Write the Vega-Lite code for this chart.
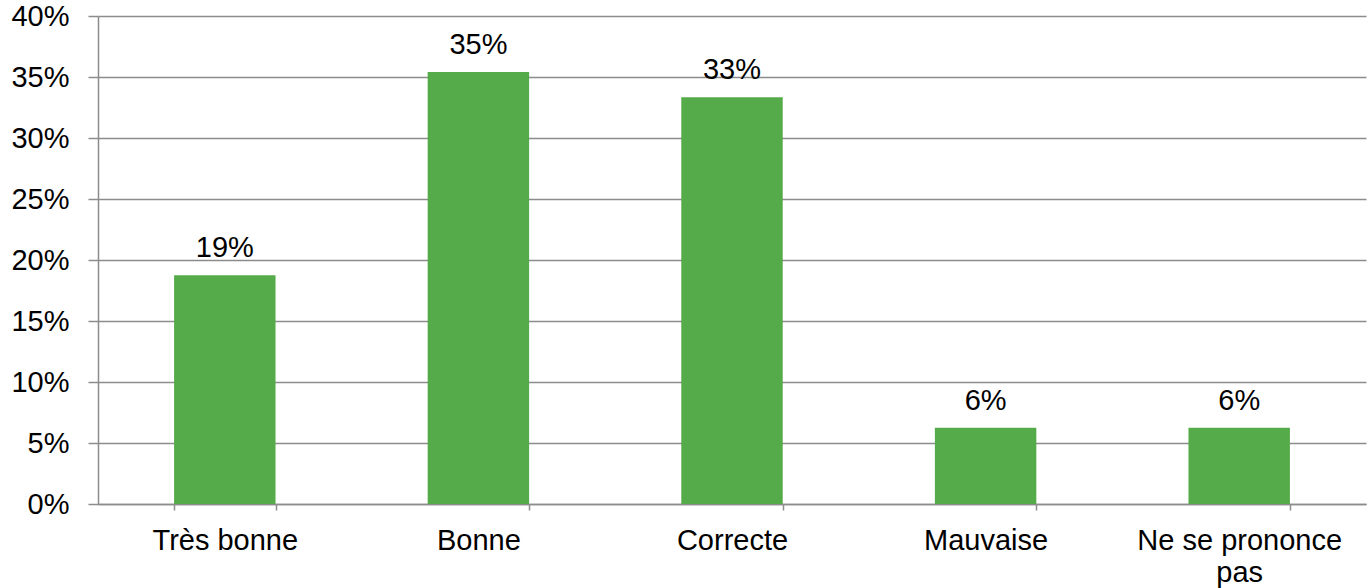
{
  "$schema": "https://vega.github.io/schema/vega-lite/v6.json",
  "autosize": "none",
  "width": 1268,
  "height": 488,
  "padding": {"left": 98, "top": 16, "right": 4, "bottom": 84},
  "background": "white",
  "config": {
    "view": {"stroke": null},
    "font": "Liberation Sans"
  },
  "data": {
    "values": [
      {"categorie": "Très bonne", "part": 0.1875},
      {"categorie": "Bonne", "part": 0.3542},
      {"categorie": "Correcte", "part": 0.3333},
      {"categorie": "Mauvaise", "part": 0.0625},
      {"categorie": "Ne se prononce pas", "part": 0.0625}
    ]
  },
  "encoding": {
    "x": {
      "field": "categorie",
      "type": "nominal",
      "sort": null,
      "scale": {"paddingInner": 0.6, "paddingOuter": 0.3},
      "axis": {
        "title": null,
        "labelAngle": 0,
        "labelFont": "Liberation Sans",
        "labelFontSize": 29,
        "labelColor": "#000000",
        "labelBaseline": "alphabetic",
        "labelPadding": 39,
        "labelLineHeight": 32,
        "labelLimit": 0,
        "labelExpr": "datum.value == 'Ne se prononce pas' ? ['Ne se prononce', 'pas'] : datum.value",
        "tickBand": "extent",
        "tickSize": 6,
        "tickColor": "#8c8c8c",
        "tickWidth": 1.5,
        "domainColor": "#8c8c8c",
        "domainWidth": 1.5,
        "grid": false
      }
    },
    "y": {
      "field": "part",
      "type": "quantitative",
      "scale": {"domain": [0, 0.4], "nice": false},
      "axis": {
        "title": null,
        "values": [0, 0.05, 0.1, 0.15, 0.2, 0.25, 0.3, 0.35, 0.4],
        "format": ".0%",
        "labelFont": "Liberation Sans",
        "labelFontSize": 29,
        "labelColor": "#000000",
        "labelPadding": 19,
        "tickSize": 10,
        "tickColor": "#8c8c8c",
        "tickWidth": 1.5,
        "domainColor": "#8c8c8c",
        "domainWidth": 1.5,
        "grid": true,
        "gridColor": "#8c8c8c",
        "gridWidth": 1.5
      }
    }
  },
  "layer": [
    {"mark": {"type": "bar", "color": "#55aa4a"}},
    {
      "mark": {
        "type": "text",
        "baseline": "alphabetic",
        "dy": -18,
        "fontSize": 29,
        "font": "Liberation Sans",
        "color": "#000000"
      },
      "encoding": {
        "text": {"field": "part", "type": "quantitative", "format": ".0%"}
      }
    }
  ]
}
